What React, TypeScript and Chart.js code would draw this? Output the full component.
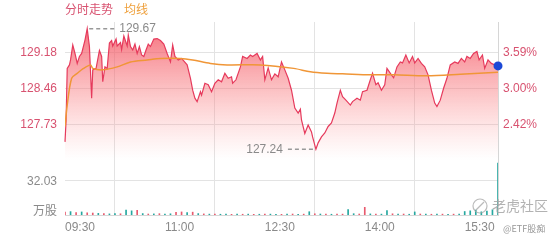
import React, { useEffect, useRef } from 'react';
import { Chart, registerables } from 'chart.js';

Chart.register(...registerables);

// ---- data ----
const priceTimes = [
  0, 1, 2, 4, 5, 7, 9, 11, 13, 15,
  18, 20, 22, 24, 25, 28, 31, 33, 34, 36,
  38, 40, 42, 43, 46, 47, 50, 51, 53, 56,
  57, 59, 61, 63, 65, 67, 69, 71, 73, 75,
  77, 80, 83, 86, 89, 92, 95, 97, 99, 102,
  105, 110, 113, 115, 117, 119, 122, 123, 126, 129,
  132, 135, 138, 141, 144, 147, 150, 151, 154, 158,
  160, 164, 167, 169, 173, 176, 178, 180, 183, 186,
  189, 192, 195, 198, 201, 204, 207, 210, 212, 213,
  216, 219, 222, 223, 226, 228, 231, 234, 237, 240,
  243, 245, 248, 250, 253, 257, 259, 263, 266, 268,
  272, 275, 277, 280, 282, 285, 288, 290, 294, 296,
  299, 302, 304, 307, 310, 313, 315, 318, 321, 324,
  327, 330, 333, 335, 338, 341, 344, 347, 351, 354,
  357, 360, 362, 365, 368, 371, 373, 376, 378, 381,
  384, 387, 390,
];
const prices = [
  127.39, 127.83, 128.87, 128.94, 129.04, 129.34, 129.17, 128.97, 129.11, 129.17,
  129.44, 129.67, 129.31, 128.27, 128.84, 128.87, 129.23, 129.11, 128.60, 128.90,
  128.87, 129.38, 129.43, 129.32, 129.46, 129.32, 129.39, 129.25, 129.52, 129.32,
  129.54, 129.31, 129.24, 129.36, 129.17, 129.31, 129.14, 129.11, 129.24, 129.36,
  129.31, 129.46, 129.47, 129.43, 129.36, 129.17, 129.00, 129.34, 129.11, 129.04,
  129.07, 128.94, 128.67, 128.43, 128.27, 128.20, 128.40, 128.33, 128.57, 128.54,
  128.40, 128.57, 128.64, 128.60, 128.77, 128.67, 128.70, 128.57, 128.64, 128.90,
  129.11, 129.07, 129.14, 129.11, 129.17, 129.04, 129.11, 128.64, 128.88, 128.64,
  128.76, 128.70, 129.00, 128.84, 128.67, 128.43, 128.07, 127.97, 128.05, 127.83,
  127.56, 127.73, 127.59, 127.49, 127.24, 127.37, 127.49, 127.57, 127.70, 127.77,
  127.97, 128.17, 128.43, 128.30, 128.23, 128.13, 128.20, 128.27, 128.23, 128.40,
  128.43, 128.64, 128.77, 128.54, 128.58, 128.43, 128.54, 128.87, 128.74, 128.68,
  128.90, 129.00, 128.98, 129.14, 128.98, 129.11, 128.98, 129.07, 128.97, 128.90,
  128.74, 128.43, 128.17, 128.10, 128.23, 128.47, 128.67, 128.94, 129.00, 128.97,
  129.07, 129.00, 129.11, 129.07, 129.17, 129.21, 129.04, 129.14, 128.87, 129.04,
  128.97, 128.94, 128.92,
];
const avgTimes = [0, 2, 6, 11, 16, 23, 25, 34, 47, 59, 74, 86, 104, 115, 131, 146, 176, 206, 221, 236, 250, 275, 296, 326, 356, 390];
const avgPrices = [127.70, 128.13, 128.67, 128.77, 128.86, 128.94, 128.87, 128.84, 128.90, 129.00, 129.04, 129.07, 129.07, 129.04, 128.97, 128.94, 128.94, 128.87, 128.80, 128.77, 128.76, 128.74, 128.74, 128.72, 128.75, 128.79];

const volTimes = [
  0, 5, 10, 15, 20, 25, 30, 35, 40, 45,
  50, 55, 60, 65, 70, 75, 80, 85, 90, 95,
  100, 105, 110, 115, 120, 125, 130, 135, 140, 145,
  150, 155, 160, 165, 170, 175, 180, 185, 190, 195,
  200, 205, 210, 215, 220, 225, 230, 235, 240, 245,
  250, 255, 260, 265, 270, 275, 280, 285, 290, 295,
  300, 305, 310, 315, 320, 325, 330, 335, 340, 345,
  350, 355, 360, 365, 370, 375, 380, 385, 390,
];
const volumes = [
  2.6, 3.1, 2.2, 2.8, 2.0, 1.8, 1.5, 1.2, 1.0, 1.4,
  1.1, 4.5, 3.8, 4.2, 1.3, 0.9, 1.0, 1.2, 0.8, 1.1,
  2.4, 2.8, 2.1, 2.6, 1.3, 1.0, 0.8, 0.9, 0.7, 0.8,
  0.6, 0.9, 0.7, 0.8, 0.6, 0.7, 0.9, 0.8, 0.7, 0.6,
  0.8, 0.9, 0.7, 0.8, 3.0, 1.1, 0.9, 0.8, 0.7, 0.9,
  0.8, 5.0, 1.2, 0.9, 7.0, 1.0, 0.9, 0.8, 4.0, 1.1,
  0.8, 0.9, 0.7, 2.8, 0.9, 0.8, 0.7, 0.9, 0.8, 0.7,
  0.8, 0.9, 3.2, 3.8, 4.5, 2.9, 3.6, 4.8, 47.5,
];
const volDirs = 'rgrgrrgrgg' + 'rggrgrgrgg' + 'rrgrgrgrgg' + 'rgrgrgrggr' + 'grgrgrgrgr' + 'rggrrgrggr' + 'grggrgrgrg' + 'rggggggg' + 'g';

const xTickMinutes = [0, 90, 180, 270, 360];
const xTickLabels = ['09:30', '11:00', '12:30', '14:00', '15:30'];
const priceTicks = [127.73, 128.46, 129.18];
const pctTickLabels = ['2.42%', '3.00%', '3.59%'];
const volTickValue = 32.03;
const volTickLabel = '32.03';
const volUnitLabel = '万股';
const prevClose = 124.71;
const priceMin = 125.917;
const priceMax = 129.804;
const volMax = 176.6;

const legendPrice = '分时走势';
const legendAvg = '均线';
const watermark = '老虎社区';
const watermarkUser = '@ETF股痴';

const GRID = '#e3e3e3';
const RED_TXT = 'rgb(216,82,112)';
const GRAY_TXT = '#8a8a8a';
const FONT = '"Liberation Sans", Arial, sans-serif';
const CJK = '"Noto Sans CJK SC", sans-serif';

const pct = (p: number) => (p / prevClose - 1) * 100;

const overlay = {
  id: 'overlay',
  beforeDatasetsDraw(chart: any) {
    const { ctx, chartArea, scales } = chart;
    const vy = Math.round(scales.yv.getPixelForValue(volTickValue)) + 0.5;
    ctx.save();
    ctx.strokeStyle = GRID;
    ctx.lineWidth = 1;
    ctx.beginPath();
    ctx.moveTo(chartArea.left, vy);
    ctx.lineTo(chartArea.right, vy);
    ctx.stroke();
    ctx.restore();
  },
  afterDraw(chart: any) {
    const { ctx, chartArea, scales } = chart;
    ctx.save();
    // legend
    ctx.textBaseline = 'middle';
    ctx.textAlign = 'left';
    ctx.font = '12px ' + CJK;
    ctx.fillStyle = RED_TXT;
    ctx.fillText(legendPrice, chartArea.left, 9);
    ctx.fillStyle = 'rgb(238,160,60)';
    ctx.fillText(legendAvg, chartArea.left + 59, 9);

    // volume axis labels
    const vy = scales.yv.getPixelForValue(volTickValue);
    ctx.textAlign = 'right';
    ctx.fillStyle = GRAY_TXT;
    ctx.font = '12px ' + FONT;
    ctx.fillText(volTickLabel, chartArea.left - 8, vy + 2);
    ctx.font = '12px ' + CJK;
    ctx.fillText(volUnitLabel, chartArea.left - 8, chartArea.bottom - 5);

    // max / min annotations
    let iMax = 0, iMin = 0;
    prices.forEach((p, i) => {
      if (p > prices[iMax]) iMax = i;
      if (p < prices[iMin]) iMin = i;
    });
    const xs = scales.x, ys = scales.y;
    ctx.strokeStyle = '#999';
    ctx.lineWidth = 1.5;
    ctx.setLineDash([4, 3]);
    const mx = xs.getPixelForValue(priceTimes[iMax]);
    const my = ys.getPixelForValue(prices[iMax]);
    ctx.beginPath();
    ctx.moveTo(mx + 2, my);
    ctx.lineTo(mx + 28, my);
    ctx.stroke();
    const nx = xs.getPixelForValue(priceTimes[iMin]);
    const ny = ys.getPixelForValue(prices[iMin]);
    ctx.beginPath();
    ctx.moveTo(nx - 28, ny);
    ctx.lineTo(nx - 2, ny);
    ctx.stroke();
    ctx.setLineDash([]);
    ctx.font = '12px ' + FONT;
    ctx.fillStyle = GRAY_TXT;
    ctx.textAlign = 'left';
    ctx.fillText(prices[iMax].toFixed(2), mx + 32, my);
    ctx.textAlign = 'right';
    ctx.fillText(prices[iMin].toFixed(2), nx - 33, ny);

    // watermark
    ctx.strokeStyle = 'rgba(170,170,170,0.8)';
    ctx.lineWidth = 1.2;
    ctx.beginPath();
    ctx.arc(480, 206, 7, 0, Math.PI * 2);
    ctx.stroke();
    ctx.beginPath();
    ctx.moveTo(476, 210);
    ctx.lineTo(484, 202);
    ctx.stroke();
    ctx.textAlign = 'left';
    ctx.font = '14px ' + CJK;
    ctx.fillStyle = 'rgba(165,165,165,0.85)';
    ctx.fillText(watermark, 492, 206);
    ctx.font = '9px ' + CJK;
    ctx.fillStyle = 'rgba(140,140,140,0.9)';
    ctx.fillText(watermarkUser, 503, 229);
    ctx.restore();
  },
};

export default function App() {
  const ref = useRef<HTMLCanvasElement | null>(null);
  useEffect(() => {
    if (!ref.current) return;
    const lastIdx = prices.length - 1;
    const chart = new Chart(ref.current, {
      type: 'line',
      data: {
        datasets: [
          {
            label: 'avg',
            data: avgTimes.map((t, i) => ({ x: t, y: avgPrices[i] })),
            borderColor: 'rgb(240,150,55)',
            borderWidth: 1.5,
            pointRadius: 0,
            fill: false,
            tension: 0.3,
            yAxisID: 'y',
            order: 0,
          } as any,
          {
            label: 'price',
            data: priceTimes.map((t, i) => ({ x: t, y: prices[i] })),
            borderColor: 'rgb(230,58,92)',
            borderWidth: 1.2,
            pointRadius: (c: any) => (c.dataIndex === lastIdx ? 4.5 : 0),
            pointBackgroundColor: 'rgb(28,72,214)',
            pointBorderWidth: 0,
            clip: 8,
            fill: 'start',
            backgroundColor: (c: any) => {
              const { chart } = c;
              const area = chart.chartArea;
              if (!area) return 'rgba(0,0,0,0)';
              const g = chart.ctx.createLinearGradient(0, area.top, 0, 160);
              g.addColorStop(0, 'rgba(242,72,88,0.82)');
              g.addColorStop(0.5, 'rgba(248,120,125,0.45)');
              g.addColorStop(1, 'rgba(255,160,160,0)');
              return g;
            },
            tension: 0,
            yAxisID: 'y',
            order: 1,
          } as any,
          {
            type: 'bar',
            label: 'vol',
            data: volTimes.map((t, i) => ({ x: t, y: volumes[i] })),
            backgroundColor: volDirs.split('').map((d) => (d === 'r' ? 'rgb(232,90,110)' : 'rgb(38,168,160)')),
            barThickness: 1,
            yAxisID: 'yv',
            order: 2,
          } as any,
        ],
      },
      options: {
        animation: false,
        responsive: true,
        maintainAspectRatio: false,
        layout: { padding: { top: 22, left: 0, right: 0, bottom: 0 } },
        plugins: { legend: { display: false }, tooltip: { enabled: false } },
        scales: {
          x: {
            type: 'linear',
            min: 0,
            max: 390,
            offset: false,
            afterBuildTicks: (s: any) => {
              s.ticks = xTickMinutes.map((v) => ({ value: v }));
            },
            afterFit: (s: any) => {
              s.height = 25;
            },
            ticks: {
              autoSkip: false,
              maxRotation: 0,
              align: 'start',
              padding: 5,
              color: GRAY_TXT,
              font: { family: FONT, size: 12 },
              callback: (v: any) => xTickLabels[xTickMinutes.indexOf(Number(v))] ?? '',
            },
            grid: { color: GRID, drawTicks: false },
            border: { display: true, color: '#d6d6d6' },
          },
          y: {
            type: 'linear',
            position: 'left',
            min: priceMin,
            max: priceMax,
            afterBuildTicks: (s: any) => {
              s.ticks = priceTicks.map((v) => ({ value: v }));
            },
            afterFit: (s: any) => {
              s.width = 65;
            },
            ticks: {
              padding: 8,
              color: RED_TXT,
              font: { family: FONT, size: 12 },
              callback: (v: any) => Number(v).toFixed(2),
            },
            grid: { color: GRID, drawTicks: false },
            border: { display: false },
          },
          y1: {
            type: 'linear',
            position: 'right',
            min: pct(priceMin),
            max: pct(priceMax),
            afterBuildTicks: (s: any) => {
              s.ticks = priceTicks.map((p) => ({ value: pct(p) }));
            },
            afterFit: (s: any) => {
              s.width = 62;
            },
            ticks: {
              padding: 5,
              color: RED_TXT,
              font: { family: FONT, size: 12 },
              callback: (_v: any, i: number) => pctTickLabels[i],
            },
            grid: { display: false, drawTicks: false },
            border: { display: true, color: '#d6d6d6' },
          },
          yv: {
            type: 'linear',
            display: false,
            min: 0,
            max: volMax,
          },
        },
      } as any,
      plugins: [overlay],
    });
    return () => chart.destroy();
  }, []);

  return (
    <div style={{ position: 'fixed', left: 0, top: 0, width: 560, height: 240, background: '#fff' }}>
      <canvas ref={ref} />
    </div>
  );
}
